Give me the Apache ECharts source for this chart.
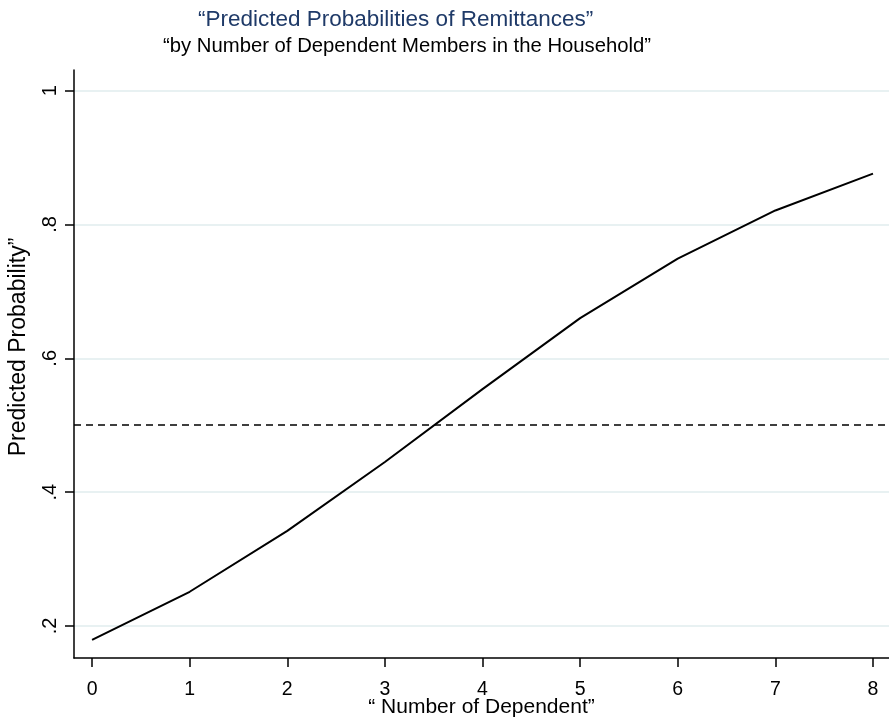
<!DOCTYPE html>
<html>
<head>
<meta charset="utf-8">
<script src="https://cdn.jsdelivr.net/npm/echarts@6/dist/echarts.min.js"></script>
<style>
  html, body { margin: 0; padding: 0; background: #fff; }
  #chart { width: 889px; height: 721px; }
</style>
</head>
<body>
<div id="chart"></div>
<script>
// number of dependent members and predicted probability of remittances
const dependents = [0, 1, 2, 3, 4, 5, 6, 7, 8];
const probability = [0.179, 0.251, 0.342, 0.445, 0.554, 0.660, 0.749, 0.821, 0.876];
const threshold = 0.5;
const yTicks = [0.2, 0.4, 0.6, 0.8, 1];
const xTicks = [0, 1, 2, 3, 4, 5, 6, 7, 8];

const font = 'Liberation Sans, Arial, sans-serif';

function fmtProb(v) {
    return v >= 1 ? '1' : String(+v.toFixed(1)).replace(/^0/, '');
}

const chart = echarts.init(document.getElementById('chart'));

chart.setOption({
    animation: false,
    backgroundColor: '#fff',
    title: [
        {
            text: '\u201cPredicted Probabilities of Remittances\u201d',
            left: 193, top: 3,
            textStyle: { color: '#1f3a68', fontSize: 22.5, fontWeight: 'normal', fontFamily: font }
        },
        {
            text: '\u201cby Number of Dependent Members in the Household\u201d',
            left: 158, top: 31,
            textStyle: { color: '#000', fontSize: 20.3, fontWeight: 'normal', fontFamily: font }
        }
    ],
    grid: { left: 74, right: 0, top: 70, bottom: 63, outerBoundsMode: 'none', containLabel: false },
    xAxis: {
        type: 'value',
        min: -0.185,
        max: 8.164,
        name: '\u201c Number of Dependent\u201d',
        nameLocation: 'middle',
        nameGap: 39,
        nameMoveOverlap: false,
        nameTextStyle: { color: '#000', fontSize: 21, fontFamily: font },
        axisLine: { show: true, onZero: false, lineStyle: { color: '#000', width: 1.5 } },
        axisTick: { show: true, customValues: xTicks, length: 9, lineStyle: { color: '#000', width: 1.5 } },
        axisLabel: { customValues: xTicks, color: '#000', fontSize: 19.5, fontFamily: font, margin: 22 },
        splitLine: { show: false }
    },
    yAxis: {
        type: 'value',
        min: 0.152,
        max: 1.031,
        name: 'Predicted Probability\u201d',
        nameLocation: 'middle',
        nameGap: 44,
        nameRotate: 90,
        nameMoveOverlap: false,
        nameTextStyle: { color: '#000', fontSize: 23, fontFamily: font, padding: [0, 0, 0, 34] },
        axisLine: { show: true, onZero: false, lineStyle: { color: '#000', width: 1.5 } },
        axisTick: { show: true, customValues: yTicks, length: 9, lineStyle: { color: '#000', width: 1.5 } },
        axisLabel: {
            customValues: yTicks, color: '#000', fontSize: 20, fontFamily: font,
            rotate: 90, margin: 14, formatter: fmtProb
        },
        splitLine: { show: true, lineStyle: { color: '#e8f1f2', width: 2 } }
    },
    series: [
        {
            type: 'line',
            data: dependents.map((d, i) => [d, probability[i]]),
            showSymbol: false,
            lineStyle: { color: '#000', width: 2 },
            markLine: {
                silent: true,
                symbol: ['none', 'none'],
                label: { show: false },
                lineStyle: { color: '#000', type: [7, 5], width: 1.5 },
                data: [{ yAxis: threshold }]
            }
        }
    ]
});
</script>
</body>
</html>
